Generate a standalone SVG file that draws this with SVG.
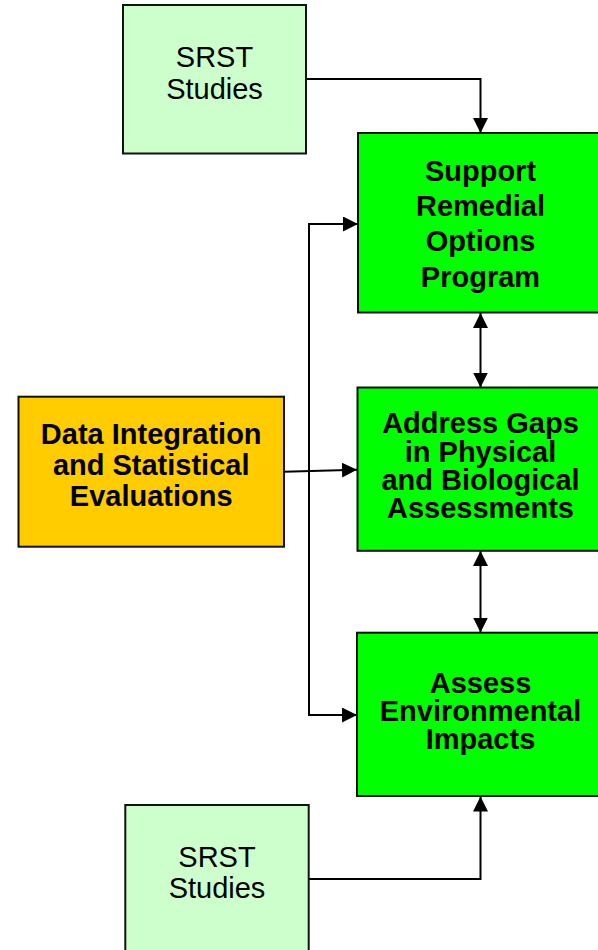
<svg xmlns="http://www.w3.org/2000/svg" width="598" height="950" viewBox="0 0 598 950">
<style>
.box{stroke:#111;stroke-width:2}
.src{fill:#CCFFCC}
.main{fill:#00FF00}
.data{fill:#FFCC00}
text{font-family:"Liberation Sans",Arial,sans-serif;font-size:29px;fill:#000;text-anchor:middle}
.b{font-weight:bold}
.conn{fill:none;stroke:#000;stroke-width:2}
</style>
<defs>
<marker id="ah" viewBox="0 0 15 15" refX="15" refY="7.5" markerWidth="15" markerHeight="15" markerUnits="userSpaceOnUse" orient="auto-start-reverse">
<path d="M0,0 L15,7.5 L0,15 z" fill="#000"/>
</marker>
</defs>
<g id="connectors">
<path class="conn" d="M306,79 H480.5 V133" marker-end="url(#ah)"/>
<path class="conn" d="M358,224 H309 V715 H357" marker-start="url(#ah)" marker-end="url(#ah)"/>
<path class="conn" d="M284,471.7 L357,469.7" marker-end="url(#ah)"/>
<path class="conn" d="M480.5,313 V387.5" marker-start="url(#ah)" marker-end="url(#ah)"/>
<path class="conn" d="M480.5,551 V632.5" marker-start="url(#ah)" marker-end="url(#ah)"/>
<path class="conn" d="M308.7,879 H480.5 V796.5" marker-end="url(#ah)"/>
</g>
<g id="srst-top">
<rect class="box src" x="123" y="5" width="183" height="148.5"/>
<text x="214.5" y="66.7">SRST</text>
<text x="214.5" y="98.7">Studies</text>
</g>
<g id="support">
<rect class="box main" x="358" y="133" width="250" height="179.5"/>
<text class="b" x="480.5" y="180.7">Support</text>
<text class="b" x="480.5" y="216">Remedial</text>
<text class="b" x="480.5" y="250.7">Options</text>
<text class="b" x="480.5" y="286.5">Program</text>
</g>
<g id="data">
<rect class="box data" x="18.5" y="396.7" width="265.5" height="150"/>
<text class="b" x="151.2" y="444">Data Integration</text>
<text class="b" x="151.2" y="475">and Statistical</text>
<text class="b" x="151.2" y="506">Evaluations</text>
</g>
<g id="address">
<rect class="box main" x="357.5" y="387.5" width="250" height="163.3"/>
<text class="b" x="480.5" y="433.3">Address Gaps</text>
<text class="b" x="480.5" y="461.7">in Physical</text>
<text class="b" x="480.5" y="490">and Biological</text>
<text class="b" x="480.5" y="517.7">Assessments</text>
</g>
<g id="assess">
<rect class="box main" x="357" y="632.7" width="250" height="163.3"/>
<text class="b" x="480.5" y="692.7">Assess</text>
<text class="b" x="480.5" y="721">Environmental</text>
<text class="b" x="480.5" y="749">Impacts</text>
</g>
<g id="srst-bottom">
<rect class="box src" x="125.3" y="805" width="183.4" height="160"/>
<text x="217" y="866.7">SRST</text>
<text x="217" y="897.7">Studies</text>
</g>
</svg>
